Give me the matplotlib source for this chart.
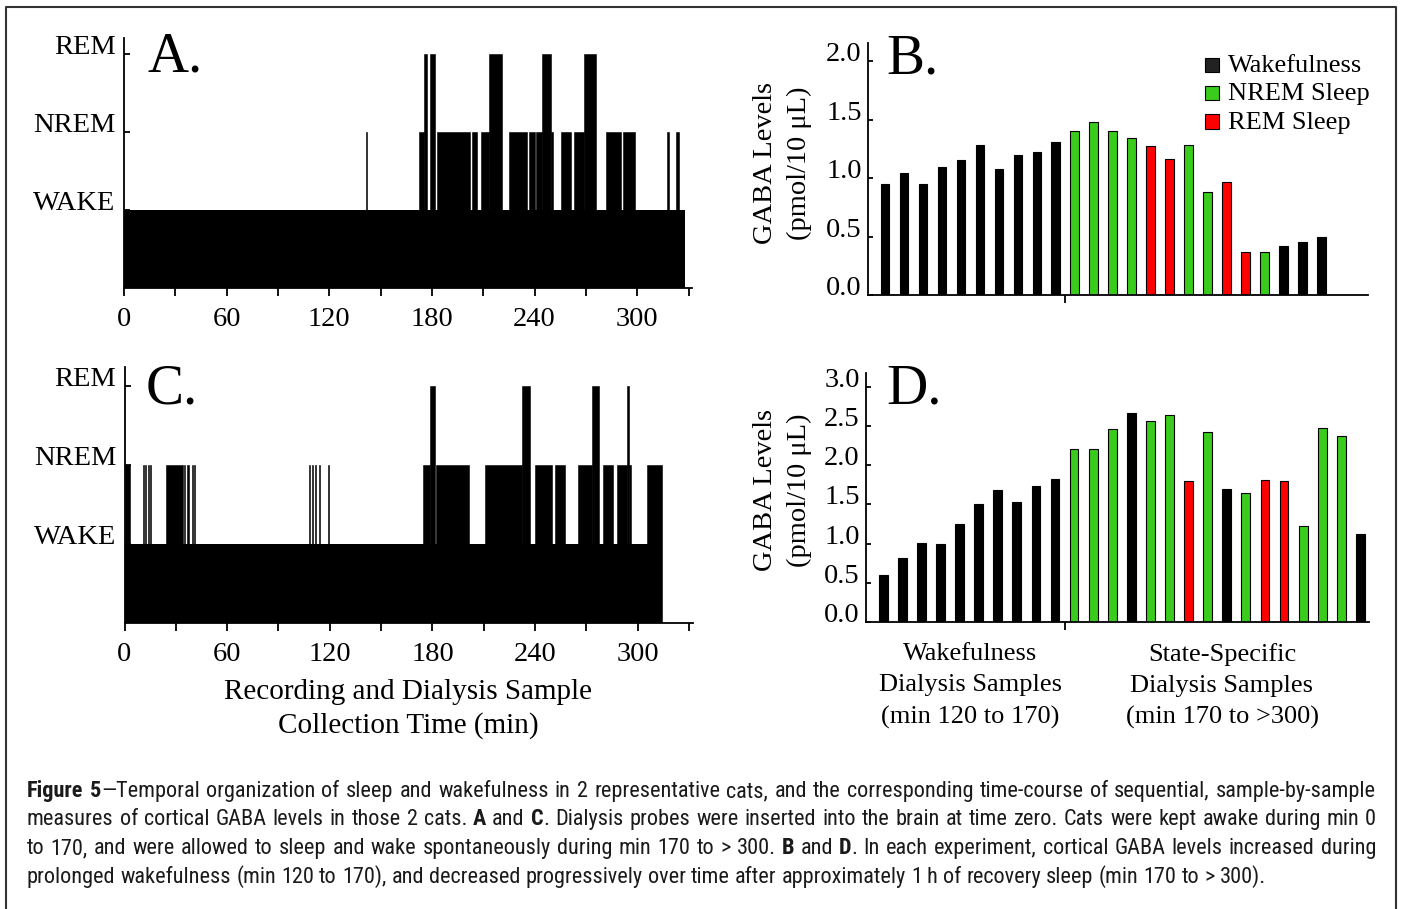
import matplotlib
matplotlib.use("Agg")
import matplotlib.pyplot as plt
from matplotlib import font_manager
from matplotlib.lines import Line2D
from matplotlib.patches import Rectangle

W, H = 1401, 909

# ── Hypnogram A: sleep episodes (min), the rest of the record is WAKE ─────────
A_END = 327.7
A_start = [141.2, 172.7, 175.2, 178.8, 182.9, 203.3, 208.4, 213.6, 225.3, 236.7,
           240.9, 244.3, 249.7, 255.2, 262.8, 268.6, 281.5, 291.6, 317.5, 322.6]
A_end = [142.0, 175.2, 177.2, 181.5, 202.5, 206.4, 213.6, 220.9, 235.7, 240.3,
         244.3, 249.7, 250.9, 261.4, 268.6, 275.6, 290.6, 298.6, 318.3, 324.2]
A_state = ["N", "N", "R", "R", "N", "N", "N", "R", "N", "N",
           "N", "R", "N", "N", "N", "R", "N", "N", "N", "N"]

# ── Hypnogram C ───────────────────────────────────────────────────────────────
C_END = 314.3
C_start = [0.0, 10.8, 12.2, 13.6, 14.9, 24.4, 35.0, 36.8, 39.2, 40.6,
           108.0, 109.8, 111.6, 113.4, 119.2, 174.5, 178.6, 182.3, 210.5, 232.3,
           240.2, 251.6, 265.1, 273.4, 279.7, 287.6, 293.6, 295.0, 305.3]
C_end = [3.2, 11.4, 12.8, 14.2, 15.6, 34.0, 35.6, 37.6, 39.8, 41.4,
         108.6, 110.4, 112.2, 114.0, 119.8, 178.6, 181.7, 201.5, 232.3, 236.8,
         249.8, 257.7, 273.4, 277.4, 285.8, 293.6, 295.0, 296.0, 314.3]
C_state = ["N", "N", "N", "N", "N", "N", "N", "N", "N", "N",
           "N", "N", "N", "N", "N", "N", "R", "N", "N", "R",
           "N", "N", "N", "R", "N", "N", "R", "N", "N"]

STATE_LEVEL = {"W": 1, "N": 2, "R": 3}
HYP_TICKS = [1, 2, 3]
HYP_LABELS = ["WAKE", "NREM", "REM"]
MIN_TICKS = [0, 60, 120, 180, 240, 300]
MIN_MINOR = [30, 90, 150, 210, 270, 330]

# ── GABA levels per dialysis sample ───────────────────────────────────────────
B_vals = [0.95, 1.04, 0.95, 1.09, 1.15, 1.28, 1.08, 1.20, 1.22, 1.31,
          1.40, 1.48, 1.40, 1.34, 1.27, 1.16, 1.28, 0.88, 0.97, 0.37,
          0.37, 0.42, 0.45, 0.50]
B_state = ["W"] * 10 + ["N", "N", "N", "N", "R", "R", "N", "N", "R", "R",
                        "N", "W", "W", "W"]
B_ticks = [0.0, 0.5, 1.0, 1.5, 2.0]

D_vals = [0.60, 0.81, 1.01, 1.00, 1.25, 1.50, 1.68, 1.53, 1.73, 1.83,
          2.21, 2.21, 2.46, 2.67, 2.56, 2.64, 1.80, 2.42, 1.70, 1.64,
          1.81, 1.80, 1.22, 2.48, 2.37, 1.12]
D_state = ["W"] * 10 + ["N", "N", "N", "W", "N", "N", "R", "N", "W", "N",
                        "R", "R", "N", "N", "N", "W"]
D_ticks = [0.0, 0.5, 1.0, 1.5, 2.0, 2.5, 3.0]

STATE_COLOR = {"W": "black", "N": "#3acc1c", "R": "#ff0000"}
LEGEND_KEYS = ["W", "N", "R"]
LEGEND_NAMES = ["Wakefulness", "NREM Sleep", "REM Sleep"]
LEGEND_SWATCH = {"W": "#222222", "N": "#3acc1c", "R": "#ff0000"}

CAPTION = [
    [("Figure 5", True), ("—Temporal organization of sleep and wakefulness in 2 representative "
                          "cats, and the corresponding time-course of sequential, sample-by-sample", False)],
    [("measures of cortical GABA levels in those 2 cats. ", False), ("A", True), (" and ", False),
     ("C", True), (". Dialysis probes were inserted into the brain at time zero. Cats were kept "
                   "awake during min 0", False)],
    [("to 170, and were allowed to sleep and wake spontaneously during min 170 to > 300. ", False),
     ("B", True), (" and ", False), ("D", True),
     (". In each experiment, cortical GABA levels increased during", False)],
    [("prolonged wakefulness (min 120 to 170), and decreased progressively over time after "
      "approximately 1 h of recovery sleep (min 170 to > 300).", False)],
]

plt.rcParams["font.family"] = ["Liberation Serif", "DejaVu Serif"]
TICK_FS = 20.5


def pick_font(*names):
    for n in names:
        try:
            font_manager.findfont(n, fallback_to_default=False)
            return n
        except ValueError:
            pass
    return "DejaVu Sans"


CAPTION_FONT = pick_font("Liberation Sans Narrow", "Arial Narrow", "Roboto Condensed",
                         "Noto Sans Condensed", "Open Sans Condensed", "Liberation Sans")


def px_axes(fig, left, top, right, bottom):
    return fig.add_axes([left / W, 1 - bottom / H, (right - left) / W, (bottom - top) / H])


def style_spines(ax):
    ax.spines[["top", "right"]].set_visible(False)
    for s in ("left", "bottom"):
        ax.spines[s].set_linewidth(1.3)


def hypnogram(ax, end, starts, ends, states, ytop):
    ax.bar(0, STATE_LEVEL["W"], width=end, align="edge", color="black", linewidth=0)
    levels = [STATE_LEVEL[s] for s in states]
    widths = [e - s for s, e in zip(starts, ends)]
    ax.bar(starts, levels, width=widths, align="edge", color="black",
           edgecolor="black", linewidth=0.4)
    ax.set_xlim(0, 332)
    ax.set_ylim(0, ytop)
    ax.set_yticks(HYP_TICKS, HYP_LABELS)
    ax.set_xticks(MIN_TICKS, [str(m) for m in MIN_TICKS])
    ax.set_xticks(MIN_MINOR, minor=True)
    ax.tick_params(axis="x", which="both", direction="out", length=6, width=1.3,
                   pad=7.5, labelsize=TICK_FS)
    ax.tick_params(axis="y", direction="in", length=4, width=1.3, pad=6,
                   labelsize=TICK_FS)
    for t in ax.get_yticklabels():
        t.set_va("baseline")
    style_spines(ax)


def gaba_bars(ax, vals, states, ytop, yticks, label_xy):
    x = list(range(len(vals)))
    ax.bar(x, vals, width=0.46, color=[STATE_COLOR[s] for s in states],
           edgecolor="black", linewidth=0.8)
    ax.set_xlim(-0.9, 25.45)
    ax.set_ylim(0, ytop)
    ax.set_yticks(yticks, [f"{v:.1f}" for v in yticks])
    ax.set_xticks([9.5], [""])
    ax.tick_params(axis="x", direction="out", length=6, width=1.3)
    ax.tick_params(axis="y", direction="in", length=3.5, width=1.3, pad=4.5,
                   labelsize=TICK_FS)
    for t in ax.get_yticklabels():
        t.set_va("baseline")
    ax.set_ylabel("GABA Levels\n(pmol/10 μL)", fontsize=TICK_FS, linespacing=1.45)
    ax.yaxis.set_label_coords(*label_xy)
    style_spines(ax)


def draw_caption(fig, lines, x0, x1, baselines, size, family):
    r = fig.canvas.get_renderer()

    def width(txt, bold, fs):
        t = fig.text(0, 0, txt, fontsize=fs, family=family,
                     weight="bold" if bold else "normal")
        w = t.get_window_extent(r).width
        t.remove()
        return w

    # split runs into words, each word keeps its bold / regular chunks
    all_words = []
    for runs in lines:
        words, cur = [], []
        for txt, bold in runs:
            for j, p in enumerate(txt.split(" ")):
                if j > 0 and cur:
                    words.append(cur)
                    cur = []
                if p:
                    cur.append((p, bold))
        if cur:
            words.append(cur)
        all_words.append(words)

    # shrink the font if a line would not fit
    space = width("a a", False, size) - width("aa", False, size)
    natural = []
    for words in all_words:
        natural.append(sum(width(c, b, size) for w in words for c, b in w)
                       + space * (len(words) - 1))
    if max(natural) > (x1 - x0):
        size *= (x1 - x0) / max(natural) * 0.99
        space = width("a a", False, size) - width("aa", False, size)

    for i, (words, yb) in enumerate(zip(all_words, baselines)):
        sized = [[(c, b, width(c, b, size)) for c, b in w] for w in words]
        total = sum(cw for w in sized for _, _, cw in w)
        gap = (x1 - x0 - total) / (len(sized) - 1) if i < len(lines) - 1 else space
        x = x0
        for w in sized:
            for c, b, cw in w:
                fig.text(x / W, 1 - yb / H, c, fontsize=size, family=family,
                         weight="bold" if b else "normal", ha="left",
                         va="baseline", color="#1a1a1a")
                x += cw
            x += gap


fig = plt.figure(figsize=(W / 100, H / 100), dpi=100)

ax_a = px_axes(fig, 124, 38, 692, 288)
hypnogram(ax_a, A_END, A_start, A_end, A_state, 3.2)
ax_c = px_axes(fig, 124.5, 367, 692.5, 623)
hypnogram(ax_c, C_END, C_start, C_end, C_state, 3.24)

ax_b = px_axes(fig, 868, 43, 1368, 295)
gaba_bars(ax_b, B_vals, B_state, 2.154, B_ticks, (-0.112, 0.524))
ax_d = px_axes(fig, 866, 373, 1369, 622)
gaba_bars(ax_d, D_vals, D_state, 3.176, D_ticks, (-0.107, 0.53))

# panel letters
for letter, x, y in [("A.", 147, 72), ("B.", 886, 73), ("C.", 146, 404), ("D.", 886, 404)]:
    fig.text(x / W, 1 - y / H, letter, fontsize=41, ha="left", va="baseline")

# legend of panel B
for i, (key, name) in enumerate(zip(LEGEND_KEYS, LEGEND_NAMES)):
    yb = 72 + 28.3 * i
    fig.patches.append(Rectangle((1205 / W, 1 - yb / H), 13.5 / W, 14.5 / H,
                                 facecolor=LEGEND_SWATCH[key], edgecolor="black",
                                 linewidth=0.8, transform=fig.transFigure))
    fig.text(1228 / W, 1 - yb / H, name, fontsize=19, ha="left", va="baseline")

fig.text(408 / W, 1 - 709 / H, "Recording and Dialysis Sample\nCollection Time (min)",
         fontsize=21, ha="center", va="center", linespacing=1.32)
fig.text(970 / W, 1 - 686 / H, "Wakefulness\nDialysis Samples\n(min 120 to 170)",
         fontsize=19, ha="center", va="center", linespacing=1.52)
fig.text(1222 / W, 1 - 686 / H, "State-Specific\nDialysis Samples\n(min 170 to >300)",
         fontsize=19, ha="center", va="center", linespacing=1.52)

# frame around the whole figure (open at the bottom edge of the crop)
fig.add_artist(Line2D([6 / W, 6 / W, 1396 / W, 1396 / W], [0, 1 - 7 / H, 1 - 7 / H, 0],
                      color="#333333", linewidth=1.5, transform=fig.transFigure))

draw_caption(fig, CAPTION, 27, 1376, [797, 825, 854, 883], 16, CAPTION_FONT)

fig.savefig("out.png", dpi=100)
